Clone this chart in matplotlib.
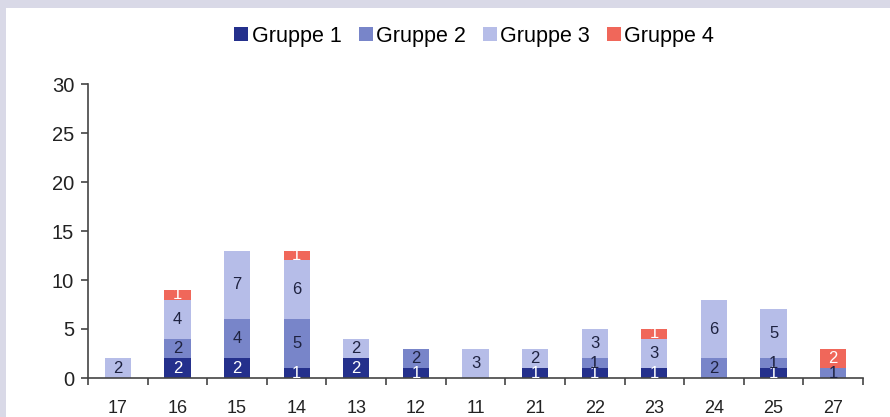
import matplotlib
matplotlib.use("Agg")
import matplotlib.pyplot as plt
from matplotlib.patches import Rectangle
import numpy as np

plt.rcParams['font.family'] = ['Liberation Sans', 'DejaVu Sans']

categories = ["17", "16", "15", "14", "13", "12", "11", "21", "22", "23", "24", "25", "27"]
gruppe1 = [0, 2, 2, 1, 2, 1, 0, 1, 1, 1, 0, 1, 0]
gruppe2 = [0, 2, 4, 5, 0, 2, 0, 0, 1, 0, 2, 1, 1]
gruppe3 = [2, 4, 7, 6, 2, 0, 3, 2, 3, 3, 6, 5, 0]
gruppe4 = [0, 1, 0, 1, 0, 0, 0, 0, 0, 1, 0, 0, 2]

series = [
    ("Gruppe 1", gruppe1, "#24308c", "white"),
    ("Gruppe 2", gruppe2, "#7885c9", "#1e2240"),
    ("Gruppe 3", gruppe3, "#b6bde8", "#1e2240"),
    ("Gruppe 4", gruppe4, "#f0675a", "white"),
]

fig = plt.figure(figsize=(8.9, 4.17), dpi=100)
fig.patch.set_facecolor("#d9d9e7")
fig.patches.append(Rectangle((6 / 890, 0), 1, (417 - 8) / 417, transform=fig.transFigure,
                             facecolor="white", edgecolor="none", zorder=-5))

ax = fig.add_axes([88 / 890, 39 / 417, 775 / 890, 294 / 417])
ax.set_facecolor("none")
ax.set_zorder(2)

x = np.arange(len(categories))
bottom = np.zeros(len(categories))
handles = []
for name, vals, color, tcolor in series:
    vals = np.array(vals, dtype=float)
    bars = ax.bar(x, vals, width=0.44, bottom=bottom, color=color, label=name, zorder=2)
    handles.append(bars)
    for xi, b, v in zip(x, bottom, vals):
        if v > 0:
            ax.text(xi, b + v / 2, f"{int(v)}", ha="center", va="center",
                    fontsize=12, color=tcolor, zorder=3)
    bottom += vals

ax.set_xlim(-0.5, len(categories) - 0.5)
ax.set_ylim(0, 30)
ax.set_yticks(range(0, 31, 5))
ax.set_xticks(x)
ax.set_xticklabels(categories)
ax.set_xticks(np.arange(-0.5, len(categories)), minor=True)
ax.tick_params(axis="x", which="major", length=0, pad=16, labelsize=13, colors="#222222")
ax.tick_params(axis="x", which="minor", length=5, width=1.2, color="#444444", direction="out")
ax.tick_params(axis="y", length=5, width=1.2, color="#444444", labelsize=14.5,
               labelcolor="#222222", pad=5)
for s in ["top", "right"]:
    ax.spines[s].set_visible(False)
for s in ["left", "bottom"]:
    ax.spines[s].set_color("#444444")
    ax.spines[s].set_linewidth(1.2)

fig.legend(handles=handles, loc="upper center", bbox_to_anchor=(0.533, 0.985), ncol=4,
           frameon=False, fontsize=15.5, handlelength=0.65, handleheight=0.65,
           handletextpad=0.15, columnspacing=0.8)

fig.savefig("out.png", dpi=100, facecolor=fig.get_facecolor())
